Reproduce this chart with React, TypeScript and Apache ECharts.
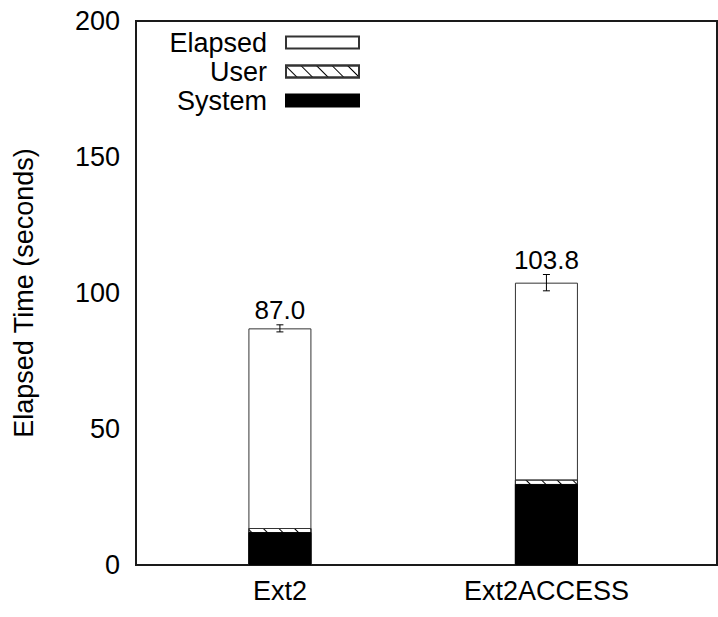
import React, { useEffect, useRef } from "react";
import * as echarts from "echarts";

// ---- data ----
const CATEGORIES = ["Ext2", "Ext2ACCESS"];
const ELAPSED = [87.0, 103.8];
const ELAPSED_ERR = [1.3, 3.0];
const USER = [13.6, 31.4];
const SYSTEM = [12.1, 29.8];
const Y_MIN = 0;
const Y_MAX = 200;
const Y_STEP = 50;
const SERIES_NAMES = ["Elapsed", "User", "System"];

const FONT = '"Liberation Sans", Arial, Helvetica, sans-serif';

export default function App() {
  const ref = useRef<HTMLDivElement>(null);

  useEffect(() => {
    if (!ref.current) return;
    const chart = echarts.init(ref.current, undefined, { renderer: "svg" });

    const pos = CATEGORIES.map((_, i) => i);
    const pairs = (vals: number[]) => pos.map((p, i) => [p, vals[i]]);

    const option: any = {
      animation: false,
      backgroundColor: "#fff",
      textStyle: { fontFamily: FONT, color: "#000" },
      grid: {
        left: 136,
        right: 1,
        top: 21,
        bottom: 52,
        show: true,
        borderColor: "#1a1a1a",
        borderWidth: 2,
        backgroundColor: "transparent",
      },
      legend: {
        data: SERIES_NAMES,
        orient: "vertical",
        align: "right",
        right: 358,
        top: 29,
        padding: 0,
        itemGap: 2,
        itemWidth: 73,
        itemHeight: 12,
        icon: "rect",
        selectedMode: false,
        textStyle: {
          fontFamily: FONT,
          fontSize: 27,
          color: "#000",
          lineHeight: 25,
          padding: [0, 14, 0, 0],
        },
      },
      xAxis: {
        type: "value",
        min: -0.54,
        max: 1.64,
        axisLine: { show: true, onZero: false, lineStyle: { color: "#1a1a1a", width: 2 } },
        axisTick: { show: false },
        splitLine: { show: false },
        axisLabel: {
          customValues: pos,
          formatter: (v: number) => CATEGORIES[Math.round(v)] ?? "",
          fontSize: 27,
          color: "#000",
          margin: 12,
          fontFamily: FONT,
        },
      },
      yAxis: {
        type: "value",
        min: Y_MIN,
        max: Y_MAX,
        interval: Y_STEP,
        name: "Elapsed Time (seconds)",
        nameLocation: "middle",
        nameGap: 99,
        nameTextStyle: { fontSize: 27, color: "#000", fontFamily: FONT },
        axisLine: { show: true, onZero: false, lineStyle: { color: "#1a1a1a", width: 2 } },
        axisTick: { show: false },
        splitLine: { show: false },
        axisLabel: { fontSize: 27, color: "#000", margin: 16, fontFamily: FONT },
      },
      series: [
        {
          name: SERIES_NAMES[0],
          type: "bar",
          data: pairs(ELAPSED),
          barWidth: 63,
          barGap: "-100%",
          itemStyle: { color: "#fff", borderColor: "#333", borderWidth: 1 },
          z: 2,
        },
        {
          name: SERIES_NAMES[1],
          type: "bar",
          data: pairs(USER),
          barWidth: 63,
          barGap: "-100%",
          itemStyle: {
            color: "#fff",
            borderColor: "#333",
            borderWidth: 1,
            decal: {
              symbol: "rect",
              symbolSize: 1,
              color: "#000",
              dashArrayX: [1, 0],
              dashArrayY: [1, 10],
              rotation: Math.PI / 4,
            },
          },
          z: 3,
        },
        {
          name: SERIES_NAMES[2],
          type: "bar",
          data: pairs(SYSTEM),
          barWidth: 63,
          barGap: "-100%",
          itemStyle: { color: "#000", borderColor: "#000", borderWidth: 1 },
          z: 4,
        },
        {
          type: "custom",
          data: pos.map((p, i) => [p, ELAPSED[i], ELAPSED_ERR[i]]),
          encode: { x: 0, y: 1 },
          z: 5,
          renderItem: (_params: any, api: any) => {
            const x = api.value(0);
            const v = api.value(1);
            const e = api.value(2);
            const top = api.coord([x, v + e]);
            const bot = api.coord([x, v - e]);
            const half = 3.5;
            const ls = { stroke: "#000", lineWidth: 1 };
            return {
              type: "group",
              children: [
                { type: "line", shape: { x1: top[0], y1: top[1], x2: bot[0], y2: bot[1] }, style: ls },
                { type: "line", shape: { x1: top[0] - half, y1: top[1], x2: top[0] + half, y2: top[1] }, style: ls },
                { type: "line", shape: { x1: bot[0] - half, y1: bot[1], x2: bot[0] + half, y2: bot[1] }, style: ls },
                {
                  type: "text",
                  x: top[0],
                  y: top[1] - 2,
                  style: {
                    text: Number(v).toFixed(1),
                    align: "center",
                    verticalAlign: "bottom",
                    fontSize: 26,
                    fontFamily: FONT,
                    fill: "#000",
                  },
                },
              ],
            };
          },
        },
      ],
    };

    chart.setOption(option);
    return () => chart.dispose();
  }, []);

  return (
    <div
      ref={ref}
      style={{ position: "absolute", left: 0, top: 0, width: 718, height: 617 }}
    />
  );
}
